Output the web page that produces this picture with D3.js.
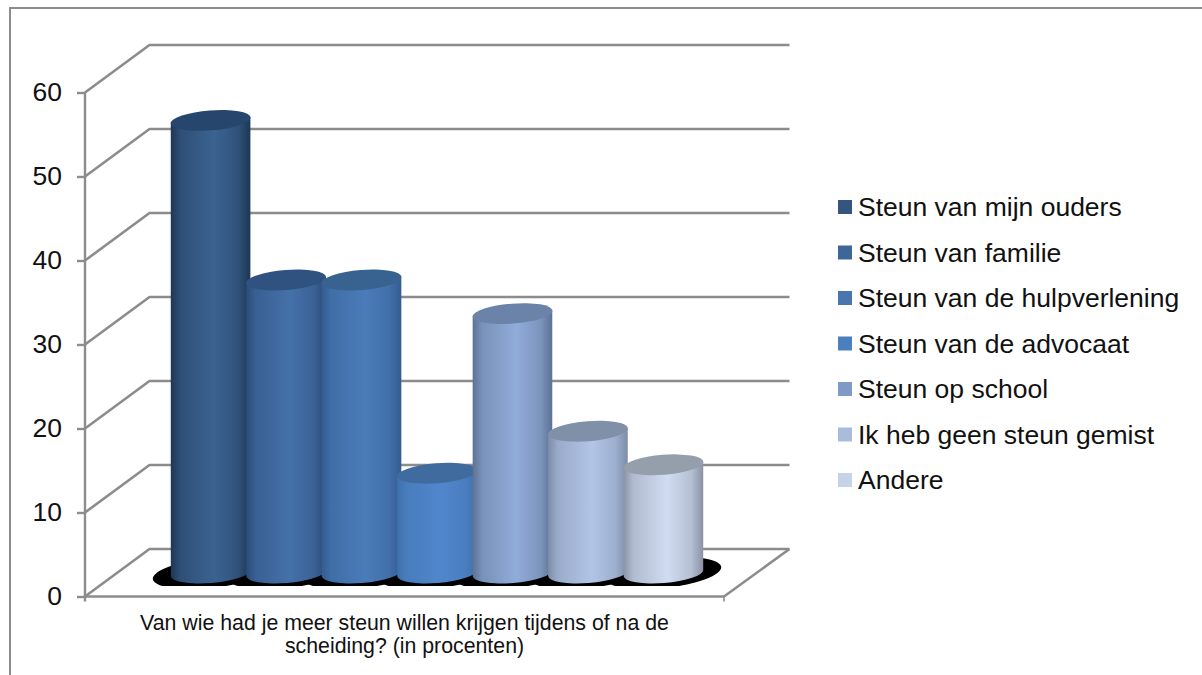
<!DOCTYPE html>
<html><head><meta charset="utf-8">
<script src="https://cdnjs.cloudflare.com/ajax/libs/d3/7.8.5/d3.min.js"></script>
<style>html,body{margin:0;padding:0;background:#fff;overflow:hidden}svg{display:block}text{font-family:"Liberation Sans",Arial,sans-serif;fill:#111}</style>
</head><body><svg id="c" width="1202" height="675"></svg>
<script>
const categories=["Steun van mijn ouders","Steun van familie","Steun van de hulpverlening","Steun van de advocaat","Steun op school","Ik heb geen steun gemist","Andere"];
const values=[54,35,35,12,31,17,13];
const yTicks=[0,10,20,30,40,50,60];
const titleLines=["Van wie had je meer steun willen krijgen tijdens of na de","scheiding? (in procenten)"];
const edgeColors=["#1d3755","#2a4b78","#335c92","#3f70ab","#5d7294","#7c8ca8","#8a93a5"];
const midColors=["#3b6391","#4571a9","#4a7cb9","#5087cc","#90acd9","#b2c5e6","#d0dcf1"];
const topColors=["#27466d","#2f5280","#38628f","#3f6b9f","#6b83a8","#8090a8","#959eab"];
const legendColors=["#33557f","#3f6698","#4a76ad","#4b80bf","#7f9ac6","#a9bcdc","#c5d2e8"];

const svg=d3.select("#c");
const gray="#8c8c8c";
const x0=85,x1=724,dx=64.5,dy=-47.5;
const y=d3.scaleLinear().domain([0,60]).range([596.5,92.5]);
const x=d3.scaleBand().domain(categories).range([171,703]).paddingInner(-0.049);
const rx=39.8,ry=10,tilt=-4.5;
const midDy=dy/2+0.25;

svg.append("path").attr("d","M10,675V8H1202").attr("fill","none").attr("stroke",gray).attr("stroke-width",2);

const grid=svg.append("g").attr("fill","none").attr("stroke",gray).attr("stroke-width",2.6);
yTicks.forEach(t=>{
  grid.append("path").attr("d",`M${x0},${y(t)}L${x0+dx},${y(t)+dy}L${x1+dx+1},${y(t)+dy}`);
});
grid.append("path").attr("d",`M${x0},${y(0)}L${x1},${y(0)}L${x1+dx+1},${y(0)+dy}`);
grid.append("path").attr("d",`M${x1},${y(0)}V${y(0)+5}`).attr("stroke-width",1.6);

const ax=svg.append("g").attr("transform",`translate(${x0},0)`).call(d3.axisLeft(y).tickValues(yTicks).tickSize(8).tickPadding(15).tickSizeOuter(0));
ax.selectAll("path,line").attr("stroke",gray).attr("stroke-width",2.4);
ax.select("path.domain").attr("d",`M0,${y(60)}V${y(0)+5}`);
ax.selectAll("text").attr("font-size",26.5).style("font-family",'"Liberation Sans",Arial,sans-serif').attr("fill","#111");

const defs=svg.append("defs");
categories.forEach((c,i)=>{
  const g=defs.append("linearGradient").attr("id","g"+i).attr("x1",0).attr("x2",1).attr("y1",0).attr("y2",0);
  g.append("stop").attr("offset",0).attr("stop-color",edgeColors[i]);
  g.append("stop").attr("offset",.12).attr("stop-color",d3.interpolateRgb(edgeColors[i],midColors[i])(.55));
  g.append("stop").attr("offset",.55).attr("stop-color",midColors[i]);
  g.append("stop").attr("offset",.85).attr("stop-color",d3.interpolateRgb(edgeColors[i],midColors[i])(.6));
  g.append("stop").attr("offset",1).attr("stop-color",edgeColors[i]);
});

const tr=Math.sin(-tilt*Math.PI/180)*rx;
const base=y(0)+midDy;
const cx=c=>x(c)+x.bandwidth()/2;

defs.append("clipPath").attr("id","sc").append("rect").attr("x",0).attr("y",0).attr("width",1202).attr("height",base+13);
const shadow=svg.append("g").attr("fill","#000").attr("clip-path","url(#sc)");
categories.forEach(c=>{
  shadow.append("ellipse").attr("cx",cx(c)).attr("cy",base).attr("rx",rx*1.46).attr("ry",15)
    .attr("transform",`rotate(-6 ${cx(c)} ${base})`);
});

categories.forEach((c,i)=>{
  const cxx=cx(c),top=y(values[i])+midDy+1;
  const L=cxx-rx,R=cxx+rx;
  svg.append("path")
    .attr("d",`M${L},${top+tr}L${L},${base+tr}A${rx},${ry} ${tilt} 0 0 ${R},${base-tr}L${R},${top-tr}Z`)
    .attr("fill",`url(#g${i})`);
  svg.append("ellipse").attr("cx",cxx).attr("cy",top).attr("rx",rx+.3).attr("ry",ry)
    .attr("transform",`rotate(${tilt} ${cxx} ${top})`).attr("fill",topColors[i]);
});

svg.append("g").selectAll("text").data(titleLines).join("text")
  .attr("x",404.5).attr("y",(d,i)=>630+i*23).attr("text-anchor","middle").attr("font-size",21.3).text(d=>d);

const ly=d3.scalePoint().domain(categories).range([207,480]);
const leg=svg.append("g");
categories.forEach((c,i)=>{
  leg.append("rect").attr("x",838).attr("y",ly(c)-7).attr("width",14).attr("height",14).attr("fill",legendColors[i]);
  leg.append("text").attr("x",858).attr("y",ly(c)+9).attr("font-size",26.5).text(c);
});
</script></body></html>
